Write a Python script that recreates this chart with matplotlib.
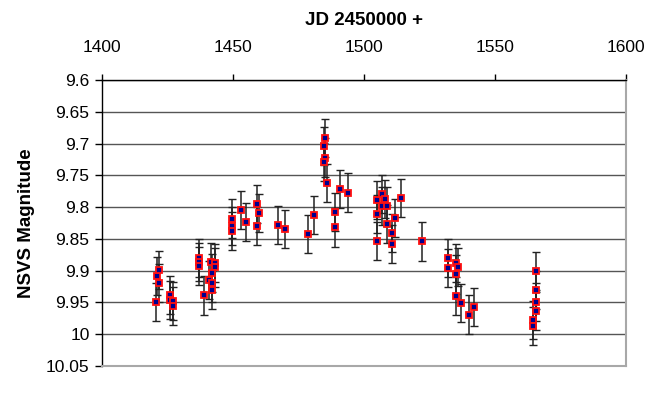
import numpy as np
import matplotlib.pyplot as plt

# JD - 2450000 and NSVS magnitudes
jd = [1420.6, 1420.8, 1421.9, 1421.9,
      1426.0, 1426.0, 1427.0, 1427.0,
      1436.9, 1437.0, 1437.0, 1439.0,
      1441.6, 1443.0, 1443.0, 1441.8, 1441.0, 1441.8, 1441.8,
      1449.7, 1449.7, 1449.7, 1453.0, 1455.0,
      1459.0, 1460.0, 1459.0, 1467.0, 1470.0,
      1478.7, 1480.8,
      1485.1, 1484.9, 1485.2, 1484.9, 1485.9,
      1489.0, 1489.0, 1490.8, 1494.0,
      1505.0, 1505.0, 1505.0, 1506.9, 1506.9, 1508.0, 1508.8, 1508.8,
      1510.7, 1510.7, 1511.8, 1514.0,
      1522.0, 1532.0, 1532.0, 1535.0, 1535.9, 1535.0, 1535.0, 1536.9,
      1540.0, 1541.9,
      1565.8, 1565.8, 1565.8, 1565.8, 1564.6, 1564.6]
mag = [9.949, 9.909, 9.899, 9.919,
       9.938, 9.946, 9.948, 9.956,
       9.880, 9.887, 9.893, 9.939,
       9.886, 9.888, 9.895, 9.903, 9.914, 9.919, 9.930,
       9.818, 9.830, 9.837, 9.804, 9.824,
       9.795, 9.809, 9.830, 9.828, 9.835,
       9.842, 9.812,
       9.691, 9.704, 9.722, 9.729, 9.762,
       9.807, 9.832, 9.772, 9.777,
       9.789, 9.811, 9.853, 9.779, 9.798, 9.787, 9.799, 9.826,
       9.841, 9.858, 9.817, 9.785,
       9.854, 9.880, 9.896, 9.888, 9.894, 9.906, 9.940, 9.951,
       9.969, 9.957,
       9.900, 9.930, 9.949, 9.964, 9.977, 9.987]
err = [0.03] * len(mag)

x_ticks = [1400, 1450, 1500, 1550, 1600]
y_ticks = [9.6, 9.65, 9.7, 9.75, 9.8, 9.85, 9.9, 9.95, 10.0, 10.05]
y_labels = ['9.6', '9.65', '9.7', '9.75', '9.8', '9.85', '9.9', '9.95', '10', '10.05']

plt.rcParams['font.family'] = ['Liberation Sans', 'DejaVu Sans']

fig = plt.figure(figsize=(6.5, 3.93), dpi=100)
ax = fig.add_axes([0.157, 0.0687, 0.806, 0.7277])

# horizontal gridlines
for y in y_ticks:
    ax.axhline(y, color='#555555', linewidth=1, zorder=1)

ax.errorbar(jd, mag, yerr=err, fmt='none', ecolor='#222222', elinewidth=1.1,
            capsize=3, capthick=1, zorder=2)
ax.plot(jd, mag, 's', markersize=4.2, markerfacecolor='#000090',
        markeredgecolor='#ff1010', markeredgewidth=1.3, zorder=3)

ax.set_xlim(1400, 1600)
ax.set_ylim(10.05, 9.6)
ax.set_xticks(x_ticks)
ax.set_yticks(y_ticks)
ax.set_yticklabels(y_labels)

ax.xaxis.tick_top()
ax.xaxis.set_label_position('top')
ax.tick_params(axis='x', direction='out', length=4, width=1, labelsize=12.5, pad=14)
ax.tick_params(axis='y', direction='out', length=5, width=1, labelsize=12.5, pad=4)

for side in ['left', 'top']:
    ax.spines[side].set_color('black')
    ax.spines[side].set_linewidth(1)
for side in ['right', 'bottom']:
    ax.spines[side].set_color('#a8a8a8')
    ax.spines[side].set_linewidth(1.5)

ax.set_xlabel('JD 2450000 +', fontsize=13.5, fontweight='bold', labelpad=11)
ax.set_ylabel('NSVS Magnitude', fontsize=13.5, fontweight='bold', labelpad=8)

plt.savefig('out.png', dpi=100)
